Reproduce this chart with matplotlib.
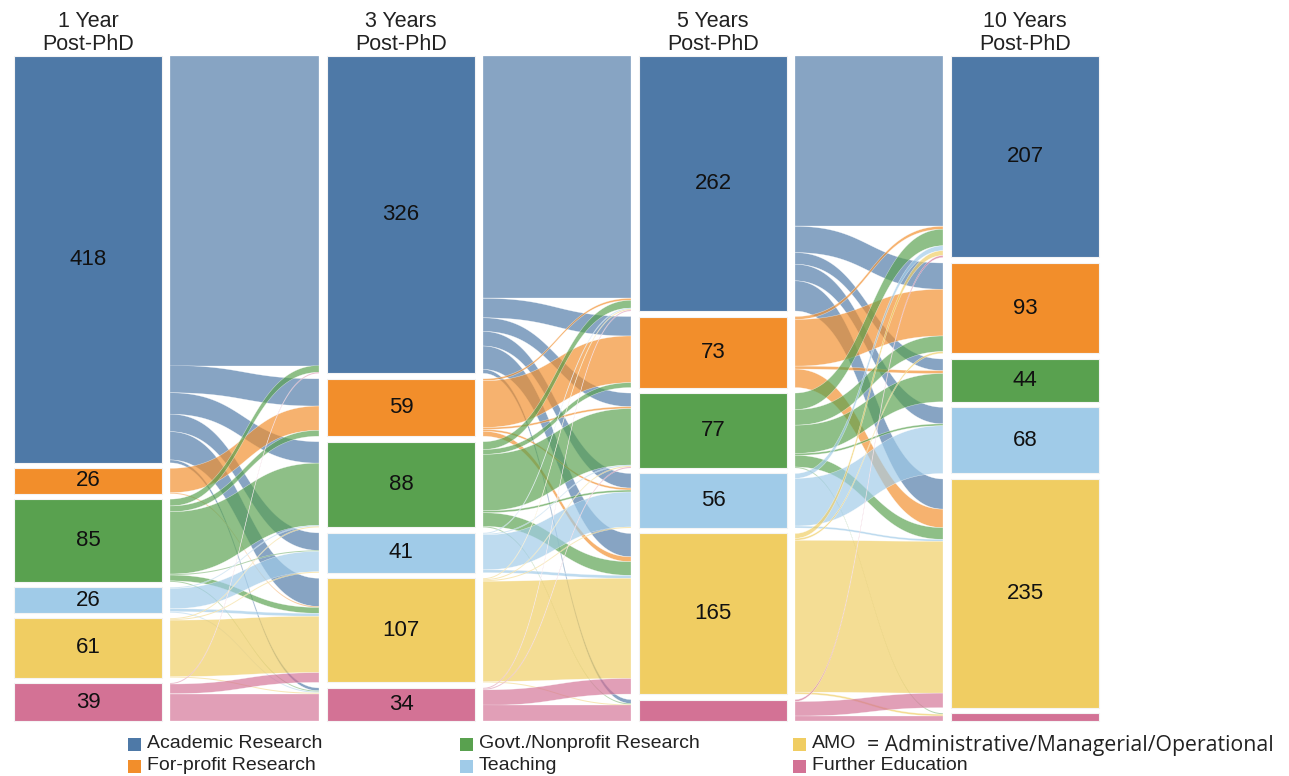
import numpy as np
import matplotlib.pyplot as plt
from matplotlib.patches import Rectangle, Polygon

categories = ["Academic Research", "For-profit Research", "Govt./Nonprofit Research",
              "Teaching", "AMO", "Further Education"]
stages = ["1 Year\nPost-PhD", "3 Years\nPost-PhD", "5 Years\nPost-PhD", "10 Years\nPost-PhD"]

node_1y = [418, 26, 85, 26, 61, 39]
node_3y = [326, 59, 88, 41, 107, 34]
node_5y = [262, 73, 77, 56, 165, 22]
node_10y = [207, 93, 44, 68, 235, 8]
show_label = [[True] * 6, [True] * 6, [True] * 5 + [False], [True] * 5 + [False]]

# flows: rows = source category, cols = target category
flow_1_3 = [[318, 28, 22, 18, 29, 3],
            [0, 25, 0, 0, 1, 0],
            [7, 6, 64, 1, 6, 1],
            [0, 0, 1, 21, 3, 1],
            [0, 0, 1, 1, 58, 1],
            [1, 0, 0, 0, 10, 28]]
flow_3_5 = [[249, 20, 14, 15, 24, 4],
            [2, 48, 2, 2, 5, 0],
            [8, 5, 58, 2, 14, 1],
            [1, 0, 1, 36, 3, 0],
            [1, 0, 1, 1, 103, 1],
            [1, 0, 1, 0, 16, 16]]
flow_5_10 = [[175, 27, 12, 17, 31, 0],
             [3, 48, 3, 0, 19, 0],
             [17, 16, 29, 2, 12, 1],
             [5, 0, 0, 49, 2, 0],
             [5, 2, 0, 0, 156, 2],
             [2, 0, 0, 0, 15, 5]]

colors = ["#4E79A7", "#F28E2B", "#59A14F", "#A0CBE8", "#F0CD62", "#D37295"]

nodes = [node_1y, node_3y, node_5y, node_10y]
flows = [flow_1_3, flow_3_5, flow_5_10]

W, H = 1289, 776
fig = plt.figure(figsize=(W / 100, H / 100), dpi=100)
ax = fig.add_axes([0, 0, 1, 1])
ax.set_xlim(0, W)
ax.set_ylim(H, 0)
ax.axis("off")

col_x = [14, 327, 639, 951]
bar_w = 148
top, bottom, gap = 56, 721, 5.5
flow_pad = 8
total = sum(node_1y)
k = (bottom - top - gap * 5) / total


def node_tops(vals):
    ys = []
    y = top
    for v in vals:
        ys.append(y)
        y += v * k + gap
    return ys


tops = [node_tops(v) for v in nodes]

# flows
t = np.linspace(0, 1, 60)


def bez(x0, y0, x1, y1):
    xm = (x0 + x1) / 2
    xs = (1 - t) ** 3 * x0 + 3 * (1 - t) ** 2 * t * xm + 3 * (1 - t) * t ** 2 * xm + t ** 3 * x1
    ys = (1 - t) ** 3 * y0 + 3 * (1 - t) ** 2 * t * y0 + 3 * (1 - t) * t ** 2 * y1 + t ** 3 * y1
    return xs, ys


for s, fm in enumerate(flows):
    fm = np.array(fm)
    x0 = col_x[s] + bar_w + flow_pad
    x1 = col_x[s + 1] - flow_pad
    # target offsets: incoming ordered by source
    tgt_start = np.zeros(fm.shape)
    for j in range(6):
        y = tops[s + 1][j]
        for i in range(6):
            tgt_start[i, j] = y
            y += fm[i, j] * k
    for i in range(6):
        y = tops[s][i]
        for j in range(6):
            v = fm[i, j]
            if v <= 0:
                continue
            h = v * k
            yt0 = tgt_start[i, j]
            ax_, ay_ = bez(x0, y, x1, yt0)
            bx_, by_ = bez(x1, yt0 + h, x0, y + h)
            pts = np.column_stack([np.concatenate([ax_, bx_]), np.concatenate([ay_, by_])])
            ax.add_patch(Polygon(pts, closed=True, facecolor=colors[i], alpha=0.68,
                                 edgecolor="white", linewidth=0.3, zorder=2))
            y += h

# nodes
for c, vals in enumerate(nodes):
    for i, v in enumerate(vals):
        y = tops[c][i]
        ax.add_patch(Rectangle((col_x[c], y), bar_w, v * k, facecolor=colors[i],
                               edgecolor="#f4f4f4", linewidth=0.8, zorder=3))
        if show_label[c][i]:
            ax.text(col_x[c] + bar_w / 2, y + v * k / 2, str(v), ha="center", va="center",
                    fontsize=16, family="Liberation Sans", color="#111111", zorder=4)
    ax.text(col_x[c] + bar_w / 2, 33, stages[c], ha="center", va="center",
            fontsize=15.5, family="Liberation Sans", color="#222222", linespacing=1.1)

# legend
leg_x = [128, 460, 793]
leg_y = [744, 766]
for i, name in enumerate(categories):
    cx = leg_x[i // 2]
    cy = leg_y[i % 2]
    ax.add_patch(Rectangle((cx, cy - 6.5), 13, 13, facecolor=colors[i], edgecolor="none"))
    ax.text(cx + 19, cy, name, ha="left", va="center", fontsize=14,
            family="Liberation Sans", color="#222222")
ax.text(867, leg_y[0] + 1, "= Administrative/Managerial/Operational", ha="left", va="center",
        fontsize=15.3, family="Open Sans", color="#222222")

fig.savefig("out.png", dpi=100, facecolor="white")
